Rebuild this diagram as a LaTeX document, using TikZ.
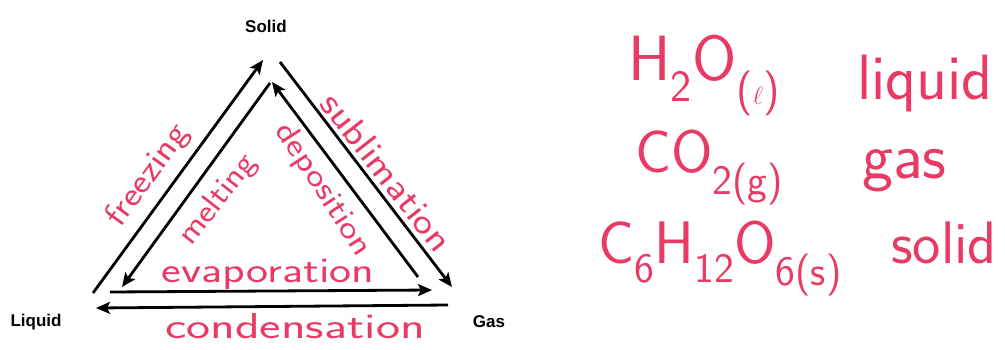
\documentclass[tikz,border=0pt]{standalone}
\usepackage{fontspec}
\usepackage{graphicx}
\setmainfont{Liberation Sans}
\usetikzlibrary{arrows.meta}
\definecolor{ink}{RGB}{232,58,100}
\newcommand\hxs[2]{\scalebox{#1}[1]{#2}}
\begin{document}
\begin{tikzpicture}[x=1pt,y=-1pt,
  arr/.style={line width=2.8pt,black,-{Stealth[length=14pt,width=12pt,inset=3pt]}},
  phase/.style={font=\fontsize{17}{17}\selectfont\bfseries,inner sep=0pt},
  hand/.style={text=ink,inner sep=0pt,font=\sffamily\fontsize{#1}{#1}\selectfont},
  hand/.default=34]
\useasboundingbox[fill=white] (0,0) rectangle (1005,349);
% phase labels
\node[phase] (solid) at (266,26) {Solid};
\node[phase] (liquid) at (36,322) {Liquid};
\node[phase] (gas) at (489,322) {Gas};
% arrow end points
\coordinate (fa) at (93,293);  \coordinate (fb) at (263,60);
\coordinate (ma) at (270,83);  \coordinate (mb) at (122,287);
\coordinate (sa) at (280,62);  \coordinate (sb) at (452,287);
\coordinate (da) at (418,277); \coordinate (db) at (272,82);
\coordinate (ea) at (110,292); \coordinate (eb) at (432,290);
\coordinate (ca) at (448,305); \coordinate (cb) at (96,308);
\draw[arr] (fa) -- (fb);
\draw[arr] (ma) -- (mb);
\draw[arr] (sa) -- (sb);
\draw[arr] (da) -- (db);
\draw[arr] (ea) -- (eb);
\draw[arr] (ca) -- (cb);
% handwritten process labels
\node[hand=34,rotate=54] (freezing) at (148,176) {\hxs{1.15}{freezing}};
\node[hand=32,rotate=52] (melting) at (218,200) {\hxs{1.15}{melting}};
\node[hand=32,rotate=-57] (deposition) at (323,190) {\hxs{1.2}{deposition}};
\node[hand=36,rotate=-52] (sublimation) at (387,172) {\hxs{1.18}{sublimation}};
\node[hand=36] (evaporation) at (268,274) {\hxs{1.3}{evaporation}};
\node[hand=36] (condensation) at (295,326) {\hxs{1.42}{condensation}};
% formulas
\node[hand=64,anchor=base west] (h2o) at (628,80) {H\textsubscript{2}O\textsubscript{($\ell$)}};
\node[hand=64,anchor=base west] (liq) at (857,99) {liquid};
\node[hand=60,anchor=base west] (co2) at (635,172) {CO\textsubscript{2(g)}};
\node[hand=66,anchor=base west] (gs) at (862,178) {gas};
\node[hand=60,anchor=base west] (glu) at (598,263) {C\textsubscript{6}H\textsubscript{12}O\textsubscript{6(s)}};
\node[hand=60,anchor=base east] (sd) at (997,263) {solid};
\end{tikzpicture}
\end{document}
